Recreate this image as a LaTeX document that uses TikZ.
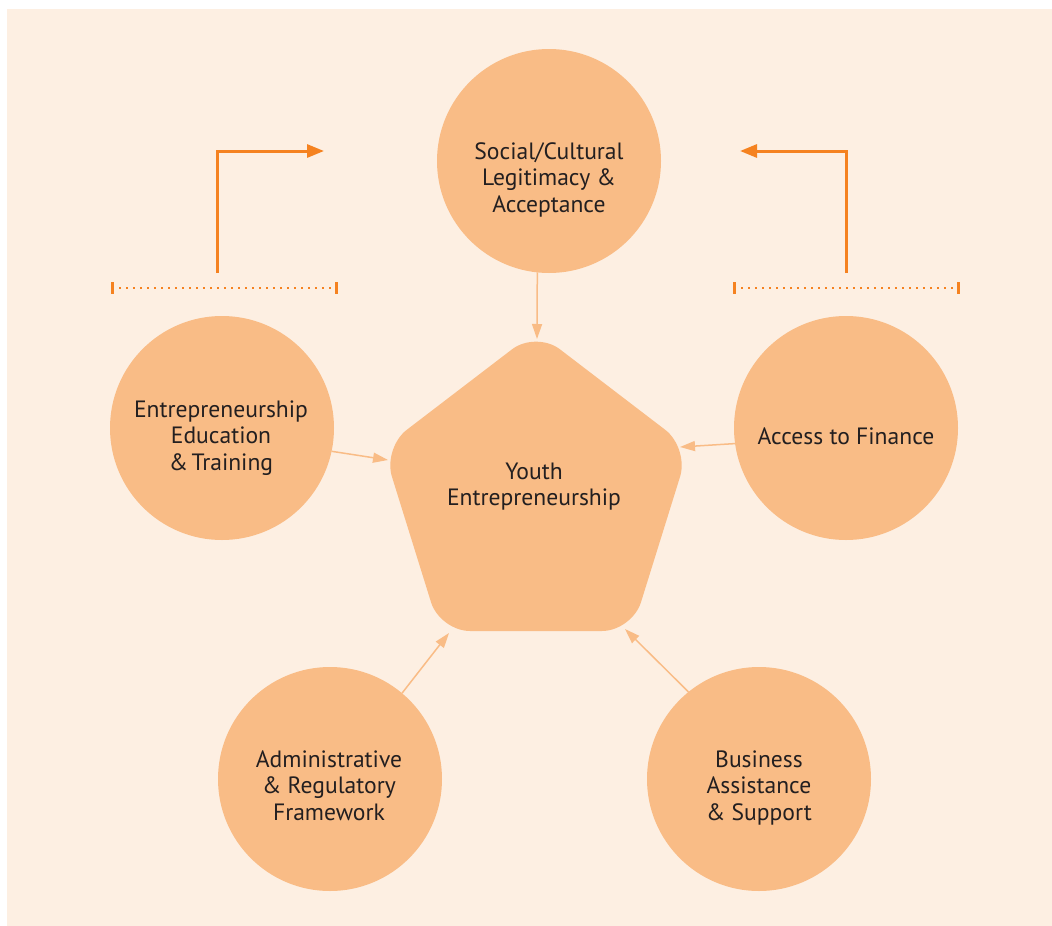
\documentclass[tikz,border=0pt]{standalone}
\usepackage{fontspec}
\setmainfont{PT Sans}
\usetikzlibrary{arrows.meta,calc}
\definecolor{bgcream}{HTML}{FDEFE2}
\definecolor{peach}{HTML}{F9BC86}
\definecolor{accent}{HTML}{F58220}
\definecolor{ink}{HTML}{231F20}
% centred lines whose baseline is the first line's baseline
\newcommand{\tlines}[1]{\vtop{\halign{\hfil##\hfil\cr#1\crcr}}}

\begin{document}
\begin{tikzpicture}[x=1pt,y=-1pt,
  factor/.style={circle, fill=peach, minimum size=224pt, inner sep=0pt, outer sep=0pt},
  caption/.style={text=ink, anchor=base, inner sep=0pt,
                  font=\fontsize{23.6}{26.5}\selectfont},
  feed/.style={draw=peach, line width=1.5pt, -{Triangle[length=15pt,width=10pt]}},
  lift/.style={draw=accent, line width=3pt, -{Triangle[length=17pt,width=13pt]}},
  dotrule/.style={draw=accent, line width=2.2pt, dash pattern=on 2.2pt off 4.8pt},
  endtick/.style={draw=accent, line width=3pt}]

% canvas
\useasboundingbox (0,0) rectangle (1052,926);
\fill[white] (0,0) rectangle (1052,926);
\fill[bgcream] (7,9) rectangle (1052,926);

% surrounding factors
\node[factor] (soc) at (549,161) {};
\node[factor] (edu) at (222,428) {};
\node[factor] (fin) at (846,428) {};
\node[factor] (adm) at (330,779) {};
\node[factor] (bus) at (759,779) {};

% central pentagon
\coordinate (pT)  at (536,331);
\coordinate (pR)  at (689,448);
\coordinate (pBR) at (632,631);
\coordinate (pBL) at (440,631);
\coordinate (pL)  at (383,448);
\fill[peach, rounded corners=30pt]
  ($(pBL)!0.5!(pBR)$) -- (pBR) -- (pR) -- (pT) -- (pL) -- (pBL) -- cycle;

% labels
\node[caption] (socT) at (549,159) {\tlines{Social/Cultural\cr Legitimacy \&\cr Acceptance}};
\node[caption] (eduT) at (221,417) {\tlines{Entrepreneurship\cr Education\cr \&\hspace{0.15em}Training}};
\node[caption] (finT) at (846,444) {Access to Finance};
\node[caption] (pent) at (534,479) {\tlines{Youth\cr Entrepreneurship}};
\node[caption] (admT) at (329,767) {\tlines{Administrative\cr \& Regulatory\cr Framework}};
\node[caption] (busT) at (759,767) {\tlines{Business\cr Assistance\cr \& Support}};

% arrow ends on the pentagon
\coordinate (eS) at (537,339);
\coordinate (eE) at (388,460);
\coordinate (eF) at (680,447);
\coordinate (eA) at (449,633);
\coordinate (eB) at (625,629);

\draw[feed] (soc.264) -- (eS);
\draw[feed] (edu.-12) -- (eE);
\draw[feed] (fin.188) -- (eF);
\draw[feed] (adm.50)  -- (eA);
\draw[feed] (bus.129) -- (eB);

% brackets with elbow arrows towards the top factor
\coordinate (lA) at (112,288);
\coordinate (lB) at (336,288);
\coordinate (rA) at (734,288);
\coordinate (rB) at (958,288);

\draw[dotrule] (lA) -- (lB);
\draw[dotrule] (rA) -- (rB);
\foreach \p in {lA,lB,rA,rB}
  \draw[endtick] ($(\p)+(0,-6)$) -- ($(\p)+(0,6)$);

\coordinate (lS) at (217,273);
\coordinate (lE) at (324,151);
\coordinate (rS) at (846,273);
\coordinate (rE) at (740,151);
\draw[lift] (lS) |- (lE);
\draw[lift] (rS) |- (rE);
\end{tikzpicture}
\end{document}
